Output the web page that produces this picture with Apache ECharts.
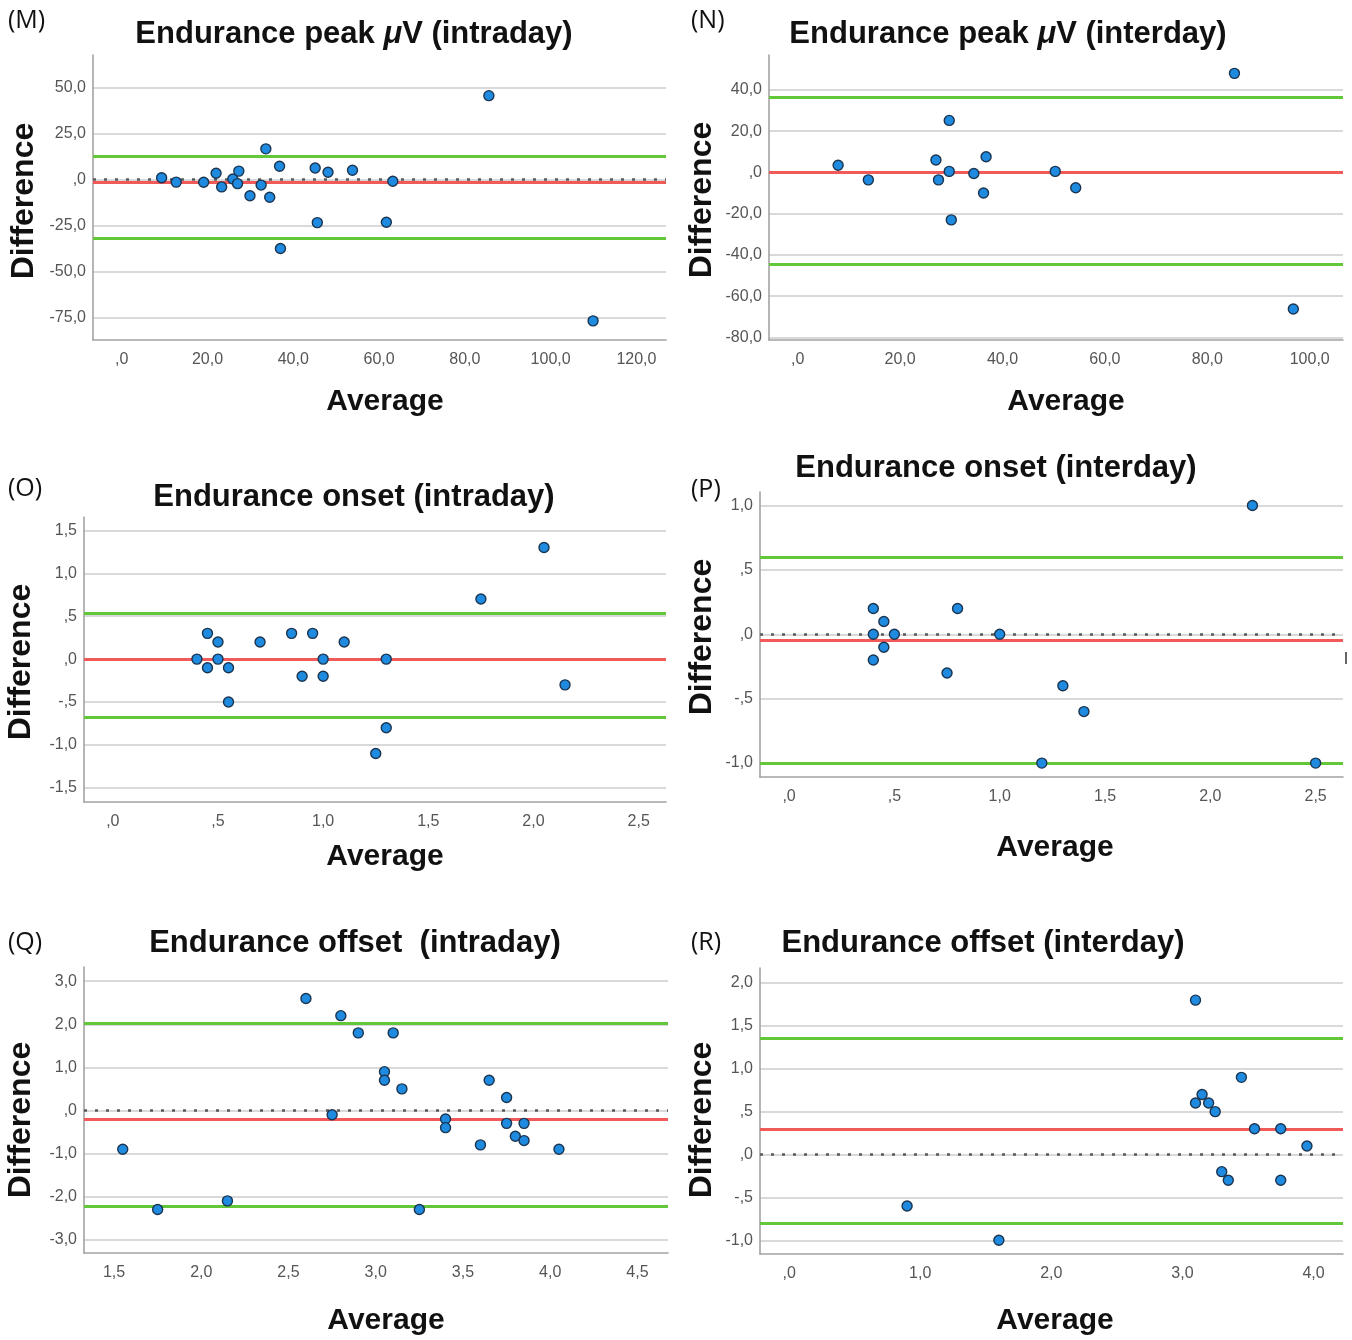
<!DOCTYPE html>
<html>
<head>
<meta charset="utf-8">
<script src="https://cdn.jsdelivr.net/npm/echarts@6/dist/echarts.min.js"></script>
<style>html,body{margin:0;padding:0;background:#fff}#c{width:1352px;height:1340px}</style>
</head>
<body>
<div id="c"></div>
<script>
// ---------- DATA ----------
// (M) Endurance peak µV (intraday)
const M_avg  = [9.3, 12.7, 19.1, 22.0, 23.3, 25.9, 27.0, 27.3, 29.9, 32.5, 33.6, 34.5, 36.8, 37.0, 45.1, 45.6, 48.1, 53.8, 61.7, 63.2, 85.6, 109.9];
const M_diff = [1.0, -1.4, -1.5, 3.4, -4.0, 0.3, -2.2, 4.6, -8.8, -3.0, 16.7, -9.6, 7.2, -37.5, 6.3, -23.4, 4.0, 5.1, -23.2, -0.9, 45.6, -76.8];
const M_mean = -1.2, M_upper = 12.9, M_lower = -31.8;
const M_xTicks = [0, 20, 40, 60, 80, 100, 120];
const M_yTicks = [-75, -50, -25, 0, 25, 50];

// (N) Endurance peak µV (interday)
const N_avg  = [7.9, 13.8, 27.0, 27.5, 29.6, 29.6, 30.0, 34.4, 36.3, 36.8, 50.3, 54.3, 85.3, 96.8];
const N_diff = [3.5, -3.6, 6.0, -3.6, 25.2, 0.5, -23.0, -0.5, -10.0, 7.6, 0.5, -7.4, 48.0, -66.2];
const N_mean = 0.0, N_upper = 36.5, N_lower = -44.5;
const N_xTicks = [0, 20, 40, 60, 80, 100];
const N_yTicks = [-80, -60, -40, -20, 0, 20, 40];

// (O) Endurance onset (intraday)
const O_avg  = [0.40, 0.45, 0.45, 0.50, 0.50, 0.55, 0.55, 0.70, 0.85, 0.90, 0.95, 1.00, 1.00, 1.10, 1.25, 1.30, 1.30, 1.75, 2.05, 2.15];
const O_diff = [0.0, 0.3, -0.1, 0.2, 0.0, -0.1, -0.5, 0.2, 0.3, -0.2, 0.3, 0.0, -0.2, 0.2, -1.1, 0.0, -0.8, 0.7, 1.3, -0.3];
const O_mean = 0.0, O_upper = 0.535, O_lower = -0.675;
const O_xTicks = [0, 0.5, 1.0, 1.5, 2.0, 2.5];
const O_yTicks = [-1.5, -1.0, -0.5, 0, 0.5, 1.0, 1.5];

// (P) Endurance onset (interday)
const P_avg  = [0.40, 0.40, 0.40, 0.45, 0.45, 0.50, 0.75, 0.80, 1.00, 1.20, 1.30, 1.40, 2.20, 2.50];
const P_diff = [0.2, 0.0, -0.2, 0.1, -0.1, 0.0, -0.3, 0.2, 0.0, -1.0, -0.4, -0.6, 1.0, -1.0];
const P_mean = -0.05, P_upper = 0.60, P_lower = -1.0;
const P_xTicks = [0, 0.5, 1.0, 1.5, 2.0, 2.5];
const P_yTicks = [-1.0, -0.5, 0, 0.5, 1.0];

// (Q) Endurance offset (intraday)
const Q_avg  = [1.55, 1.75, 2.15, 2.60, 2.75, 2.80, 2.90, 3.05, 3.05, 3.10, 3.15, 3.25, 3.40, 3.40, 3.60, 3.65, 3.75, 3.75, 3.80, 3.85, 3.85, 4.05];
const Q_diff = [-0.9, -2.3, -2.1, 2.6, -0.1, 2.2, 1.8, 0.9, 0.7, 1.8, 0.5, -2.3, -0.2, -0.4, -0.8, 0.7, 0.3, -0.3, -0.6, -0.3, -0.7, -0.9];
const Q_mean = -0.2, Q_upper = 2.03, Q_lower = -2.22;
const Q_xTicks = [1.5, 2.0, 2.5, 3.0, 3.5, 4.0, 4.5];
const Q_yTicks = [-3, -2, -1, 0, 1, 2, 3];

// (R) Endurance offset (interday)
const R_avg  = [0.90, 1.60, 3.10, 3.10, 3.15, 3.20, 3.25, 3.30, 3.35, 3.45, 3.55, 3.75, 3.75, 3.95];
const R_diff = [-0.6, -1.0, 1.8, 0.6, 0.7, 0.6, 0.5, -0.2, -0.3, 0.9, 0.3, 0.3, -0.3, 0.1];
const R_mean = 0.30, R_upper = 1.357, R_lower = -0.795;
const R_xTicks = [0, 1, 2, 3, 4];
const R_yTicks = [-1.0, -0.5, 0, 0.5, 1.0, 1.5, 2.0];

const titles  = ['Endurance peak {i|μ}V (intraday)', 'Endurance peak {i|μ}V (interday)',
                 'Endurance onset (intraday)', 'Endurance onset (interday)',
                 'Endurance offset  (intraday)', 'Endurance offset (interday)'];
const letters = ['(M)', '(N)', '(O)', '(P)', '(Q)', '(R)'];
const yName = 'Difference', xName = 'Average';

// ---------- LAYOUT ----------
const panels = [
  {avg: M_avg, diff: M_diff, mean: M_mean, up: M_upper, lo: M_lower, xt: M_xTicks, yt: M_yTicks,
   xr: [-6.7, 126.9], yr: [-87.2, 67.7], grid: [93, 55, 573, 285],
   title: [354, 34], letter: [8, 21], yn: [24, 201], xn: [385, 402]},
  {avg: N_avg, diff: N_diff, mean: N_mean, up: N_upper, lo: N_lower, xt: N_xTicks, yt: N_yTicks,
   xr: [-5.6, 106.5], yr: [-81.2, 56.9], grid: [769, 55, 574, 285],
   title: [1008, 34], letter: [691, 21], yn: [702, 200], xn: [1066, 402]},
  {avg: O_avg, diff: O_diff, mean: O_mean, up: O_upper, lo: O_lower, xt: O_xTicks, yt: O_yTicks,
   xr: [-0.137, 2.63], yr: [-1.665, 1.656], grid: [84, 517, 582, 285],
   title: [354, 497], letter: [8, 489], yn: [21, 662], xn: [385, 857]},
  {avg: P_avg, diff: P_diff, mean: P_mean, up: P_upper, lo: P_lower, xt: P_xTicks, yt: P_yTicks,
   xr: [-0.138, 2.63], yr: [-1.108, 1.105], grid: [760, 492, 583, 285],
   title: [996, 468], letter: [691, 490], yn: [702, 637], xn: [1055, 848]},
  {avg: Q_avg, diff: Q_diff, mean: Q_mean, up: Q_upper, lo: Q_lower, xt: Q_xTicks, yt: Q_yTicks,
   xr: [1.328, 4.675], yr: [-3.31, 3.33], grid: [84, 967, 584, 286],
   title: [355, 943], letter: [8, 943], yn: [21, 1120], xn: [386, 1321]},
  {avg: R_avg, diff: R_diff, mean: R_mean, up: R_upper, lo: R_lower, xt: R_xTicks, yt: R_yTicks,
   xr: [-0.222, 4.225], yr: [-1.16, 2.175], grid: [760, 968, 583, 286],
   title: [983, 943], letter: [691, 943], yn: [702, 1120], xn: [1055, 1321]}
];

const FONT = '"Liberation Sans", Arial, sans-serif';
const GREEN = '#62c83a', RED = '#f25a5a';

function spss(v) {
  let s = Math.abs(v).toFixed(1).replace('.', ',');
  if (s.indexOf('0,') === 0) s = s.slice(1);
  return (v < 0 ? '-' : '') + s;
}

const grid = [], xAxis = [], yAxis = [], series = [], graphic = [];
panels.forEach((p, i) => {
  grid.push({left: p.grid[0], top: p.grid[1], width: p.grid[2], height: p.grid[3], containLabel: false});
  xAxis.push({
    type: 'value', gridIndex: i, min: p.xr[0], max: p.xr[1],
    axisLine: {show: true, onZero: false, lineStyle: {color: '#a3a3a3', width: 1.6}},
    axisTick: {show: false, customValues: p.xt},
    axisLabel: {customValues: p.xt, formatter: spss, color: '#555', fontSize: 16, fontFamily: FONT, margin: 12},
    splitLine: {show: false}
  });
  yAxis.push({
    type: 'value', gridIndex: i, min: p.yr[0], max: p.yr[1],
    axisLine: {show: true, onZero: false, lineStyle: {color: '#a3a3a3', width: 1.6}},
    axisTick: {show: false, customValues: p.yt},
    axisLabel: {customValues: p.yt, formatter: spss, color: '#555', fontSize: 16, fontFamily: FONT, margin: 7},
    splitLine: {show: true, lineStyle: {color: '#d9d9d9', width: 2}}
  });
  series.push({
    type: 'scatter', xAxisIndex: i, yAxisIndex: i, z: 10,
    data: p.avg.map((a, k) => [a, p.diff[k]]),
    symbol: 'circle', symbolSize: 10,
    itemStyle: {color: '#1f8be0', borderColor: '#1b3550', borderWidth: 1.4, opacity: 1},
    emphasis: {disabled: true},
    markLine: {
      silent: true, symbol: ['none', 'none'], label: {show: false}, animation: false,
      data: [
        {yAxis: 0, lineStyle: {type: [3, 8], color: '#5a5a5a', width: 2.5}},
        {yAxis: p.lo, lineStyle: {type: 'solid', color: GREEN, width: 3.2}},
        {yAxis: p.up, lineStyle: {type: 'solid', color: GREEN, width: 3.2}},
        {yAxis: p.mean, lineStyle: {type: 'solid', color: RED, width: 3.2}}
      ]
    }
  });
  graphic.push({
    type: 'text', x: p.title[0], y: p.title[1],
    style: {
      text: '{b|' + titles[i].replace('{i|μ}', '}{i|μ}{b|') + '}',
      align: 'center', verticalAlign: 'middle', textAlign: 'center', textVerticalAlign: 'middle',
      rich: {
        b: {fontFamily: FONT, fontWeight: 'bold', fontSize: 31, fill: '#111', color: '#111'},
        i: {fontFamily: FONT, fontWeight: 'bold', fontStyle: 'italic', fontSize: 31, fill: '#111', color: '#111'}
      }
    }
  });
  graphic.push({
    type: 'text', x: p.letter[0], y: p.letter[1],
    style: {text: letters[i], font: '25px "Open Sans", sans-serif', fill: '#111',
            align: 'left', verticalAlign: 'middle', textAlign: 'left', textVerticalAlign: 'middle'}
  });
  graphic.push({
    type: 'text', x: p.yn[0], y: p.yn[1], rotation: Math.PI / 2,
    style: {text: yName, font: 'bold 32px ' + FONT, fill: '#111',
            align: 'center', verticalAlign: 'middle', textAlign: 'center', textVerticalAlign: 'middle'}
  });
  graphic.push({
    type: 'text', x: p.xn[0], y: p.xn[1],
    style: {text: xName, font: 'bold 30px ' + FONT, fill: '#111',
            align: 'center', verticalAlign: 'middle', textAlign: 'center', textVerticalAlign: 'middle'}
  });
});
// small stray mark at the right edge of panel (P) in the source figure
graphic.push({type: 'rect', shape: {x: 1345, y: 652, width: 2, height: 12}, style: {fill: '#666'}});

const chart = echarts.init(document.getElementById('c'), null, {renderer: 'canvas'});
chart.setOption({
  backgroundColor: '#ffffff',
  animation: false,
  grid, xAxis, yAxis, series, graphic
});
</script>
</body>
</html>
